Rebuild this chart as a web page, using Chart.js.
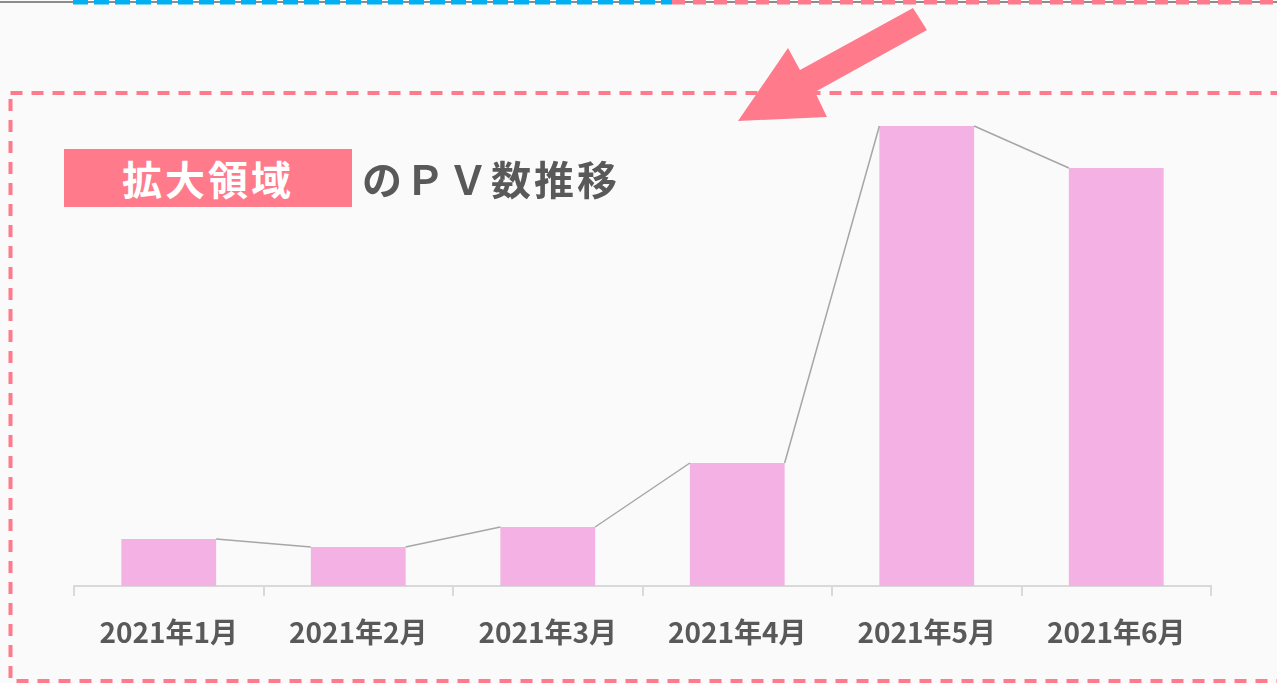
<!DOCTYPE html>
<html lang="ja">
<head>
<meta charset="utf-8">
<script src="https://cdn.jsdelivr.net/npm/chart.js@4/dist/chart.umd.min.js"></script>
<style>
  html, body { margin: 0; padding: 0; background: #fafafa; }
  #wrap { position: relative; width: 1277px; height: 683px; overflow: hidden; font-family: "Noto Sans CJK JP", sans-serif; }
  #grafico { position: absolute; left: 0; top: 0; }
  #deco { position: absolute; left: 0; top: 0; pointer-events: none; }
  .titulo-caja { position: absolute; left: 64px; top: 149px; width: 288px; height: 58px; background: #ff7b8c;
    color: #fff; font-weight: 700; font-size: 40px; line-height: 58px; text-align: center; letter-spacing: 3px; }
  .titulo-texto { position: absolute; left: 362px; top: 149px; height: 58px; line-height: 58px;
    color: #595959; font-weight: 700; font-size: 40px; letter-spacing: 3px; }
</style>
</head>
<body>
<div id="wrap">
  <canvas id="grafico" width="1277" height="683"></canvas>
  <svg id="deco" width="1277" height="683">
    <line x1="0" y1="2" x2="1277" y2="2" stroke="#8c8c8c" stroke-width="2"/>
    <line x1="73" y1="2" x2="672" y2="2" stroke="#00b0f0" stroke-width="5" stroke-dasharray="15 6"/>
    <line x1="672" y1="2" x2="1277" y2="2" stroke="#ff7b8c" stroke-width="5" stroke-dasharray="13 8"/>
    <rect x="10.5" y="93" width="1290" height="588" fill="none" stroke="#ff7b8c" stroke-width="4" stroke-dasharray="12 9"/>
    <polygon points="913,8 927,30 815,92 827,117 738,121 788,48 800,70" fill="#ff7b8c"/>
  </svg>
  <div class="titulo-caja">拡大領域</div>
  <div class="titulo-texto">のＰＶ数推移</div>
</div>
<script>
// Meses y PV (unidades relativas)
const meses = ['2021年1月', '2021年2月', '2021年3月', '2021年4月', '2021年5月', '2021年6月'];
const visitas = [470, 390, 590, 1230, 4600, 4180];
const maximoEje = 4860;

// Líneas grises que unen la esquina superior de cada barra con la siguiente
const lineasSerie = {
    id: 'lineasSerie',
    afterDatasetsDraw(chart) {
        const barras = chart.getDatasetMeta(0).data;
        const ctx = chart.ctx;
        ctx.save();
        ctx.strokeStyle = '#a6a6a6';
        ctx.lineWidth = 1.5;
        for (let i = 0; i < barras.length - 1; i++) {
            const a = barras[i];
            const b = barras[i + 1];
            ctx.beginPath();
            ctx.moveTo(a.x + a.width / 2, a.y);
            ctx.lineTo(b.x - b.width / 2, b.y);
            ctx.stroke();
        }
        ctx.restore();
    }
};

new Chart(document.getElementById('grafico'), {
    type: 'bar',
    data: {
        labels: meses,
        datasets: [{
            data: visitas,
            backgroundColor: '#f4b1e3',
            borderWidth: 0,
            categoryPercentage: 1,
            barPercentage: 0.5
        }]
    },
    options: {
        responsive: false,
        animation: false,
        layout: { padding: { left: 74, right: 66, top: 100, bottom: 0 } },
        plugins: { legend: { display: false }, tooltip: { enabled: false } },
        scales: {
            x: {
                afterFit: s => { s.height = 97; },
                grid: { display: true, drawOnChartArea: false, drawTicks: true, tickLength: 10, color: '#d9d9d9', lineWidth: 2, offset: true },
                border: { display: true, color: '#d9d9d9', width: 2 },
                ticks: { color: '#595959', padding: 20, font: { family: '"Noto Sans CJK JP"', size: 28, weight: 'bold' } }
            },
            y: { display: false, min: 0, max: maximoEje }
        }
    },
    plugins: [lineasSerie]
});
</script>
</body>
</html>
